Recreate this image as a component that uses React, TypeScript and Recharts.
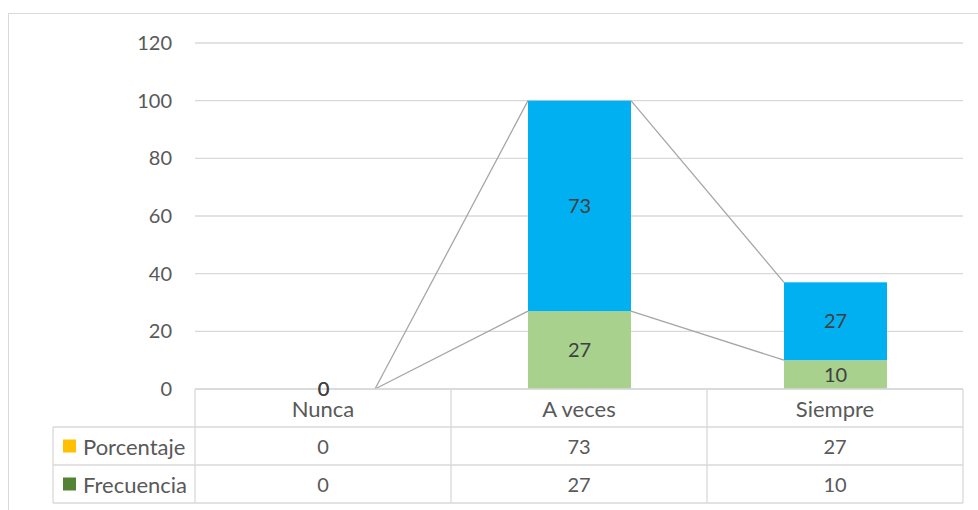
import React from 'react'
import { ComposedChart, Bar, XAxis, YAxis, CartesianGrid, LabelList } from 'recharts'

const categories = ['Nunca', 'A veces', 'Siempre']
const porcentaje = [0, 73, 27]
const frecuencia = [0, 27, 10]
const yTicks = [0, 20, 40, 60, 80, 100, 120]

const seriesNames = ['Porcentaje', 'Frecuencia']
const seriesValues = [porcentaje, frecuencia]
const legendColors = ['#FFC000', '#548235']

const data = categories.map((c, i) => ({
  name: c,
  Porcentaje: porcentaje[i],
  Frecuencia: frecuencia[i],
}))

const FONT = 'Lato, "Open Sans", sans-serif'
const TEXT = '#595959'
const BORDER = '#d9d9d9'
const ROW_H = 38
const HEADER_W = 142

// remembers each bar's top so the next bar can draw the series line back to it
const barTops: Record<string, { x: number; y: number; w: number }[]> = {}

function seriesShape(key: string, fill: string) {
  return (props: any) => {
    const { x, y, width, height, index } = props
    const store = barTops[key] || (barTops[key] = [])
    store[index] = { x, y, w: width }
    const prev = index > 0 ? store[index - 1] : undefined
    return (
      <g>
        {height > 0 && <rect x={x} y={y} width={width} height={height} fill={fill} />}
        {prev && (
          <line x1={prev.x + prev.w} y1={prev.y} x2={x} y2={y} stroke="#a6a6a6" strokeWidth={1.3} />
        )}
      </g>
    )
  }
}

function TableTick(props: any) {
  const { x, y, payload, index, width } = props
  const bw = width / categories.length
  const left = x - bw / 2
  const right = x + bw / 2
  const rows = [1, 2, 3].map((r) => y + r * ROW_H)
  return (
    <g>
      <line x1={left} y1={y} x2={right} y2={y} stroke={BORDER} strokeWidth={1.3} />
      {rows.map((ry) => (
        <line key={ry} x1={left} y1={ry} x2={right} y2={ry} stroke={BORDER} strokeWidth={1.3} />
      ))}
      <line x1={left} y1={y} x2={left} y2={y + 3 * ROW_H} stroke={BORDER} strokeWidth={1.3} />
      {index === categories.length - 1 && (
        <line x1={right} y1={y} x2={right} y2={y + 3 * ROW_H} stroke={BORDER} strokeWidth={1.3} />
      )}
      <text x={x} y={y + ROW_H / 2} textAnchor="middle" dominantBaseline="central" fill={TEXT} fontSize={22}>
        {payload.value}
      </text>
      {seriesValues.map((vals, r) => (
        <text
          key={r}
          x={x}
          y={y + ROW_H * (r + 1.5)}
          textAnchor="middle"
          dominantBaseline="central"
          fill={TEXT}
          fontSize={20}
        >
          {vals[index]}
        </text>
      ))}
      {index === 0 && (
        <g>
          {rows.map((ry) => (
            <line key={ry} x1={left - HEADER_W} y1={ry} x2={left} y2={ry} stroke={BORDER} strokeWidth={1.3} />
          ))}
          <line
            x1={left - HEADER_W}
            y1={rows[0]}
            x2={left - HEADER_W}
            y2={rows[2]}
            stroke={BORDER}
            strokeWidth={1.3}
          />
          {seriesNames.map((s, r) => (
            <g key={s}>
              <rect
                x={left - HEADER_W + 10}
                y={y + ROW_H * (r + 1.5) - 6.5}
                width={13}
                height={13}
                fill={legendColors[r]}
              />
              <text
                x={left - HEADER_W + 30}
                y={y + ROW_H * (r + 1.5)}
                dominantBaseline="central"
                fill={TEXT}
                fontSize={22}
              >
                {s}
              </text>
            </g>
          ))}
        </g>
      )}
    </g>
  )
}

export default function App() {
  return (
    <div
      style={{
        position: 'fixed',
        left: 0,
        top: 0,
        width: 978,
        height: 510,
        overflow: 'hidden',
        background: '#fff',
        fontFamily: FONT,
      }}
    >
      <div
        style={{
          position: 'absolute',
          left: 8,
          top: 13,
          width: 1000,
          height: 600,
          border: `1.5px solid ${BORDER}`,
        }}
      />
      <div style={{ position: 'absolute', left: 0, top: 0 }}>
        <ComposedChart
          width={978}
          height={510}
          data={data}
          margin={{ top: 43, right: 15, left: 135, bottom: 7 }}
        >
          <CartesianGrid vertical={false} stroke={BORDER} strokeWidth={1.3} />
          <XAxis
            dataKey="name"
            height={114}
            axisLine={false}
            tickLine={false}
            tickSize={0}
            tickMargin={0}
            interval={0}
            tick={<TableTick />}
          />
          <YAxis
            width={60}
            domain={[0, 120]}
            ticks={yTicks}
            axisLine={false}
            tickLine={false}
            tickSize={0}
            tickMargin={23}
            tick={{ fill: TEXT, fontSize: 20 }}
          />
          <Bar
            dataKey="Frecuencia"
            stackId="a"
            barSize={103}
            fill="#A9D18E"
            shape={seriesShape('Frecuencia', '#A9D18E')}
            isAnimationActive={false}
          >
            <LabelList dataKey="Frecuencia" position="center" fill="#404040" fontSize={20} />
          </Bar>
          <Bar
            dataKey="Porcentaje"
            stackId="a"
            barSize={103}
            fill="#00B0F0"
            shape={seriesShape('Porcentaje', '#00B0F0')}
            isAnimationActive={false}
          >
            <LabelList dataKey="Porcentaje" position="center" fill="#404040" fontSize={20} />
          </Bar>
        </ComposedChart>
      </div>
    </div>
  )
}
